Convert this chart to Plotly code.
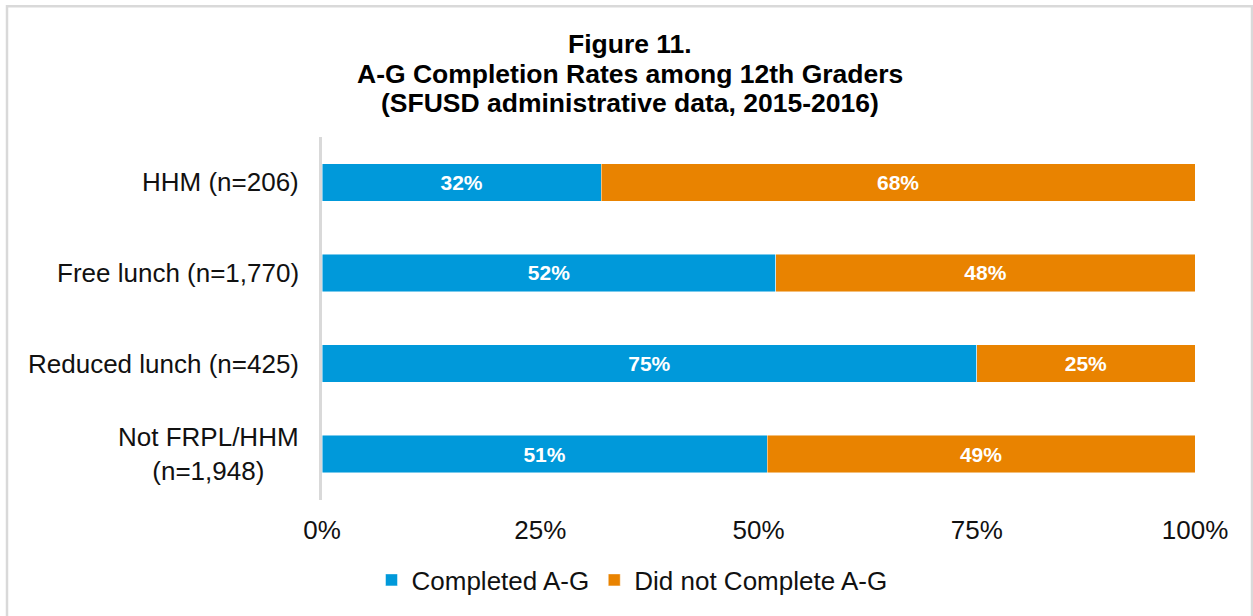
import plotly.graph_objects as go

categories = ["HHM (n=206)", "Free lunch (n=1,770)", "Reduced lunch (n=425)", "Not FRPL/HHM<br>(n=1,948)"]
completed = [0.32, 0.52, 0.75, 0.51]
not_completed = [0.68, 0.48, 0.25, 0.49]
series_names = ["Completed A-G", "Did not Complete A-G"]
tick_vals = [0, 0.25, 0.5, 0.75, 1.0]
tick_text = ["0%", "25%", "50%", "75%", "100%"]
title_lines = ["Figure 11.", "A-G Completion Rates among 12th Graders", "(SFUSD administrative data, 2015-2016)"]

W, H = 1253, 616
L, R, T, B = 322, 58, 137, 113
pw, ph = W - L - R, H - T - B

BLUE = "#0099DA"
ORANGE = "#E98300"
FONT = "Liberation Sans, Arial, sans-serif"
FS = 26

fig = go.Figure()
for name, vals, col in [(series_names[0], completed, BLUE), (series_names[1], not_completed, ORANGE)]:
    fig.add_trace(go.Bar(
        y=categories, x=vals, name=name, orientation="h",
        marker=dict(color=col, line=dict(color="rgba(255,255,255,0.6)", width=0.8)),
        text=[f"{round(v*100)}%" for v in vals],
        textposition="inside", insidetextanchor="middle",
        textfont=dict(color="white", size=21, family=FONT, weight="bold"),
        cliponaxis=False,
    ))

# category labels as annotations (centered multi-line)
for c in categories:
    fig.add_annotation(x=0, xref="paper", y=c, yref="y", text=c, showarrow=False,
                       xanchor="right", align="center", xshift=-21,
                       font=dict(size=FS, color="#111111", family=FONT))

# title lines
for line, ypx in zip(title_lines, [43, 73, 103]):
    fig.add_annotation(x=(630 - L) / pw, xref="paper", y=1 + (T - ypx) / ph, yref="paper",
                       text=f"<b>{line}</b>", showarrow=False, xanchor="center", yanchor="middle",
                       font=dict(size=26.5, color="black", family=FONT))

# outer border
fig.add_shape(type="rect", xref="paper", yref="paper",
              x0=(7 - L) / pw, x1=(1252 - L) / pw,
              y0=1 - (625 - T) / ph, y1=1 + (T - 5) / ph,
              line=dict(color="#D9D9D9", width=2.5), layer="below")

fig.update_layout(
    width=W, height=H,
    margin=dict(l=L, r=R, t=T, b=B),
    paper_bgcolor="white", plot_bgcolor="white",
    barmode="stack", bargap=0.585,
    font=dict(family=FONT, color="#111111"),
    xaxis=dict(range=[0, 1], tickvals=tick_vals, ticktext=tick_text, showgrid=False,
               zeroline=False, showline=False, tickfont=dict(size=FS, color="#111111"),
               ticks="", ticklabelstandoff=12),
    yaxis=dict(autorange="reversed", showticklabels=False, showgrid=False, zeroline=False,
               showline=True, linecolor="#D9D9D9", linewidth=3, ticks=""),
    legend=dict(orientation="h", x=632 / W, xanchor="center", xref="container",
                y=1 - 580 / H, yref="container", yanchor="middle",
                font=dict(size=FS, color="#111111"), traceorder="normal",
                itemwidth=30, tracegroupgap=0),
    showlegend=True,
)
fig.write_html("out.html", config={"displayModeBar": False},
               post_script="document.body.style.margin='0';")
